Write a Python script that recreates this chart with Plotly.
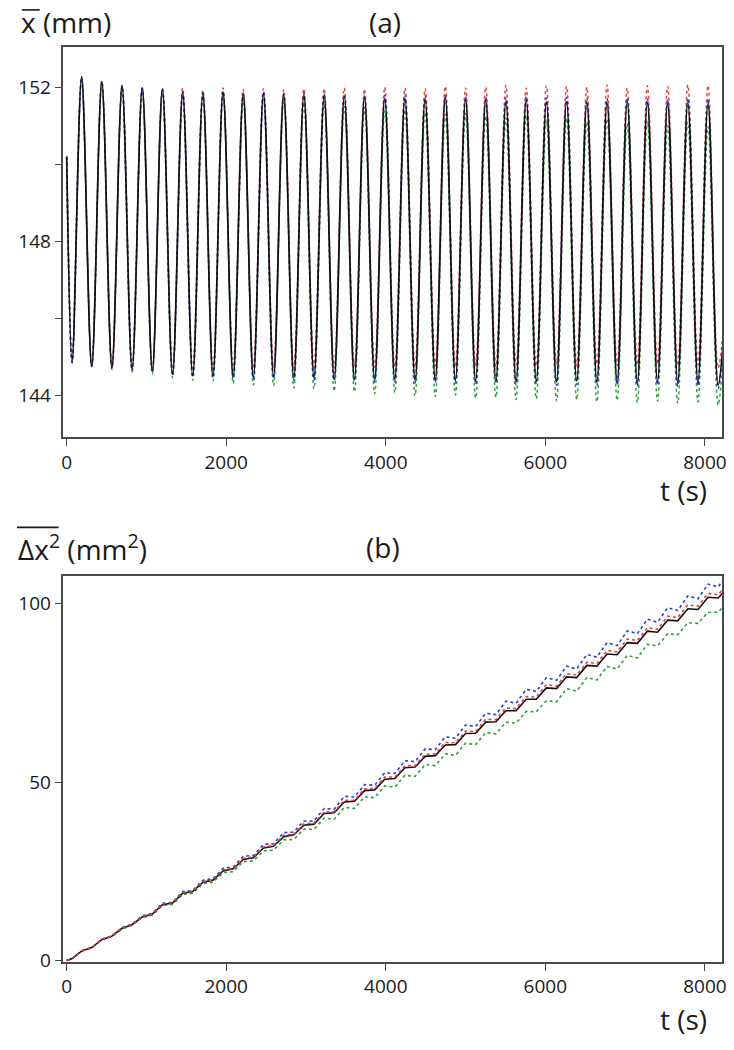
import plotly.graph_objects as go

# ---------------- data ----------------
# (a) mean position: times (s) of the oscillation maxima and minima
t_peak = [187, 440, 694, 947, 1200, 1454, 1707, 1960, 2213, 2467, 2720, 2973,
          3227, 3480, 3733, 3987, 4240, 4493, 4746, 5000, 5253, 5506, 5760, 6013,
          6266, 6520, 6773, 7026, 7279, 7533, 7786, 8039]
t_trough = [68, 314, 567, 820, 1074, 1327, 1580, 1834, 2087, 2340, 2593, 2847,
            3100, 3353, 3607, 3860, 4113, 4367, 4620, 4873, 5126, 5380, 5633, 5886,
            6140, 6393, 6646, 6900, 7153, 7406, 7659, 7913, 8166]
t_first = 0
t_last = 8230

black_peak = [152.25, 152.14, 152.03, 151.98, 151.95, 151.86, 151.84, 151.88, 151.82, 151.84,
              151.80, 151.80, 151.78, 151.76, 151.74, 151.72, 151.72, 151.70, 151.72, 151.68,
              151.66, 151.64, 151.66, 151.62, 151.63, 151.62, 151.60, 151.62, 151.60, 151.58,
              151.60, 151.58]
red_peak = [152.27, 152.16, 152.05, 152.00, 151.97, 151.98, 151.92, 151.98, 151.94, 151.96,
            151.94, 151.96, 151.96, 151.98, 151.95, 152.00, 151.98, 151.96, 152.02, 151.98,
            152.00, 152.05, 151.98, 152.04, 152.02, 152.00, 152.06, 151.98, 152.04, 152.02,
            152.06, 152.04]
blue_peak = [152.25, 152.14, 152.03, 151.98, 151.95, 151.88, 151.86, 151.90, 151.85, 151.88,
             151.84, 151.85, 151.83, 151.82, 151.80, 151.79, 151.80, 151.78, 151.80, 151.76,
             151.75, 151.74, 151.76, 151.72, 151.74, 151.72, 151.71, 151.73, 151.71, 151.69,
             151.72, 151.70]
green_peak = [152.28, 152.14, 152.02, 151.96, 151.92, 151.80, 151.76, 151.80, 151.70, 151.72,
              151.62, 151.60, 151.55, 151.50, 151.48, 151.40, 151.42, 151.35, 151.30, 151.32,
              151.25, 151.20, 151.28, 151.15, 151.20, 151.10, 151.18, 151.05, 151.12, 151.00,
              151.10, 150.98]

black_trough = [144.87, 144.77, 144.73, 144.68, 144.64, 144.56, 144.52, 144.52, 144.50, 144.48,
                144.50, 144.46, 144.46, 144.44, 144.44, 144.42, 144.42, 144.40, 144.42, 144.40,
                144.38, 144.40, 144.36, 144.38, 144.36, 144.38, 144.35, 144.36, 144.34, 144.36,
                144.34, 144.34, 144.28]
red_trough = [144.87, 144.78, 144.74, 144.70, 144.66, 144.62, 144.64, 144.68, 144.66, 144.70,
              144.72, 144.70, 144.74, 144.72, 144.75, 144.74, 144.76, 144.74, 144.78, 144.75,
              144.78, 144.76, 144.80, 144.77, 144.80, 144.78, 144.82, 144.78, 144.80, 144.82,
              144.78, 144.80, 144.72]
blue_trough = [144.86, 144.75, 144.71, 144.65, 144.60, 144.52, 144.48, 144.47, 144.45, 144.43,
               144.44, 144.40, 144.40, 144.38, 144.37, 144.35, 144.35, 144.33, 144.34, 144.32,
               144.30, 144.32, 144.28, 144.30, 144.27, 144.29, 144.26, 144.27, 144.25, 144.27,
               144.24, 144.25, 144.18]
green_trough = [144.85, 144.74, 144.68, 144.62, 144.56, 144.46, 144.40, 144.38, 144.32, 144.28,
                144.26, 144.20, 144.18, 144.12, 144.10, 144.05, 144.08, 144.00, 143.98, 144.02,
                143.94, 143.96, 143.90, 143.92, 143.86, 143.90, 143.84, 143.88, 143.82, 143.86,
                143.80, 143.84, 143.76]

x_first = [150.2, 150.2, 150.2, 150.2]          # black, red, blue, green
x_last = [145.4, 145.7, 145.3, 145.0]

# (b) mean squared displacement, sampled at the same instants (first, trough/peak ..., last)
msd_black = [0.0, 0.5, 2.6, 3.6, 5.8, 6.8, 9.0, 10.0, 12.2, 13.0, 15.6, 16.1, 18.8, 19.3,
             21.9, 22.5, 25.1, 25.7, 28.3, 28.8, 31.5, 32.0, 34.7, 35.2, 37.9, 38.2, 41.2,
             41.4, 44.4, 44.6, 47.6, 47.8, 50.8, 51.0, 54.0, 54.2, 57.2, 57.4, 60.4, 60.5,
             63.6, 63.7, 66.8, 66.9, 70.0, 70.0, 73.2, 73.2, 76.4, 76.2, 79.5, 79.3, 82.7,
             82.5, 85.9, 85.7, 89.1, 88.9, 92.3, 92.0, 95.4, 95.2, 98.6, 98.4, 101.8, 101.6, 103.2]
msd_red = [0.0, 0.5, 2.6, 3.6, 5.9, 6.8, 9.1, 10.0, 12.3, 13.0, 15.8, 16.2, 19.0, 19.4,
           22.1, 22.6, 25.4, 25.8, 28.6, 29.0, 31.8, 32.2, 35.1, 35.4, 38.3, 38.5, 41.6,
           41.7, 44.9, 44.9, 48.1, 48.2, 51.4, 51.4, 54.6, 54.6, 57.8, 57.9, 61.1, 61.0,
           64.3, 64.2, 67.6, 67.5, 70.8, 70.6, 74.0, 73.8, 77.3, 76.9, 80.4, 80.0, 83.6,
           83.2, 86.9, 86.5, 90.1, 89.7, 93.3, 92.8, 96.5, 96.1, 99.7, 99.3, 102.9, 102.5, 104.2]
msd_blue = [0.0, 0.5, 2.7, 3.6, 6.0, 6.9, 9.2, 10.1, 12.5, 13.2, 16.0, 16.3, 19.3, 19.6,
            22.5, 22.9, 25.8, 26.2, 29.2, 29.4, 32.5, 32.7, 35.8, 36.0, 39.1, 39.1, 42.6,
            42.4, 46.0, 45.8, 49.3, 49.1, 52.6, 52.4, 56.0, 55.7, 59.3, 59.1, 62.7, 62.3,
            66.0, 65.6, 69.3, 68.9, 72.7, 72.1, 76.0, 75.4, 79.3, 78.5, 82.5, 81.7, 85.8,
            85.0, 89.1, 88.3, 92.4, 91.6, 95.7, 94.8, 98.9, 98.1, 102.2, 101.4, 105.5, 104.7, 106.7]
msd_green = [0.0, 0.5, 2.6, 3.5, 5.8, 6.7, 8.8, 9.9, 12.0, 12.7, 15.4, 15.7, 18.5, 18.8,
             21.5, 21.9, 24.6, 24.9, 27.7, 27.9, 30.7, 30.9, 33.8, 33.9, 36.8, 36.7, 39.9,
             39.6, 42.9, 42.6, 45.9, 45.6, 48.9, 48.6, 51.9, 51.6, 54.9, 54.6, 57.9, 57.5,
             60.9, 60.5, 63.9, 63.5, 66.8, 66.5, 69.8, 69.7, 72.8, 72.5, 76.2, 75.5, 79.3,
             78.6, 82.4, 81.7, 85.5, 84.8, 88.6, 88.2, 91.6, 91.3, 94.7, 94.5, 97.6, 97.6, 99.2]

x_ticks = [0, 2000, 4000, 6000, 8000]
ya_ticks = [144, 148, 152]
ya_minor = [146, 150]
yb_ticks = [0, 50, 100]

# ---------------- helpers ----------------
def interleave(troughs, peaks, first, last):
    out = [first]
    for i in range(len(peaks)):
        out.append(troughs[i])
        out.append(peaks[i])
    out.append(troughs[-1])
    out.append(last)
    return out

t_all = interleave(t_trough, t_peak, t_first, t_last)

W, H = 734, 1050
def px(x):
    return x / W
def py(y):
    return 1 - y / H

RED = "#e8403a"
BLUE = "#2a3fd6"
GREEN = "#2fa03a"
BLACK = "#111111"

fig = go.Figure()

top_series = [
    ("green", GREEN, green_trough, green_peak, 3, "dot"),
    ("red", RED, red_trough, red_peak, 1, "dot"),
    ("blue", BLUE, blue_trough, blue_peak, 2, "dot"),
    ("black", BLACK, black_trough, black_peak, 0, "solid"),
]
for name, col, tr, pk, k, dash in top_series:
    yv = interleave(tr, pk, x_first[k], x_last[k])
    fig.add_trace(go.Scatter(
        x=t_all, y=yv, mode="lines", name=name, xaxis="x", yaxis="y",
        line=dict(color=col, width=1.7 if dash == "solid" else 1.5, dash=dash,
                  shape="spline", smoothing=1.0),
        showlegend=False, hoverinfo="skip"))

bottom_series = [
    ("green", GREEN, msd_green, "dot"),
    ("blue", BLUE, msd_blue, "dot"),
    ("black", BLACK, msd_black, "solid"),
    ("red", RED, msd_red, "dot"),
]
for name, col, vals, dash in bottom_series:
    fig.add_trace(go.Scatter(
        x=t_all, y=vals, mode="lines", name=name, xaxis="x2", yaxis="y2",
        line=dict(color=col, width=1.6, dash=dash),
        showlegend=False, hoverinfo="skip"))

FONT = "Open Sans"
AX = "#4a4a4a"
tickfont = dict(family=FONT, size=19, color="#1a1a1a")

common_x = dict(range=[-40, 8215], tickmode="array", tickvals=x_ticks,
                ticks="outside", ticklen=7, tickwidth=1.3, tickcolor=AX,
                showline=True, linecolor=AX, linewidth=1.6, mirror=True,
                showgrid=False, zeroline=False, tickfont=tickfont,
                domain=[px(62), px(726)])
common_y = dict(ticks="outside", ticklen=7, tickwidth=1.3, tickcolor=AX,
                showline=True, linecolor=AX, linewidth=1.6, mirror=True,
                showgrid=False, zeroline=False, tickfont=tickfont, tickmode="array")

fig.update_layout(
    width=W, height=H,
    margin=dict(l=0, r=0, t=0, b=0),
    paper_bgcolor="white", plot_bgcolor="white",
    xaxis=dict(anchor="y", **common_x),
    yaxis=dict(anchor="x", domain=[py(442), py(48)], range=[142.92, 153.03],
               tickvals=ya_ticks,
               minor=dict(tickmode="array", tickvals=ya_minor, ticks="outside",
                          ticklen=7, tickwidth=1.3, tickcolor=AX),
               **common_y),
    xaxis2=dict(anchor="y2", **common_x),
    yaxis2=dict(anchor="x2", domain=[py(972), py(582)], range=[-0.4, 107.8],
                tickvals=yb_ticks, **common_y),
)

tfont = dict(family=FONT, size=28, color="#1a1a1a")
ann = [
    ("x (mm)", 17, 22, "left"),
    ("(a)", 386, 22, "center"),
    ("t (s)", 687, 495, "center"),
    ("Δx<sup>2</sup> (mm<sup>2</sup>)", 14, 553, "left"),
    ("(b)", 384, 553, "center"),
    ("t (s)", 687, 1030, "center"),
]
for txt, x, y, xa in ann:
    fig.add_annotation(text=txt, x=px(x), y=py(y), xref="paper", yref="paper",
                       xanchor=xa, yanchor="middle", showarrow=False, font=tfont)

# overlines of the axis symbols
fig.add_shape(type="line", xref="paper", yref="paper",
              x0=px(20), x1=px(38), y0=py(10), y1=py(10),
              line=dict(color="#1a1a1a", width=1.6))
fig.add_shape(type="line", xref="paper", yref="paper",
              x0=px(15), x1=px(57), y0=py(533), y1=py(533),
              line=dict(color="#1a1a1a", width=1.6))

fig.write_html("out.html", config={"displayModeBar": False},
               post_script="document.body.style.margin='0';document.body.style.overflow='hidden';")
